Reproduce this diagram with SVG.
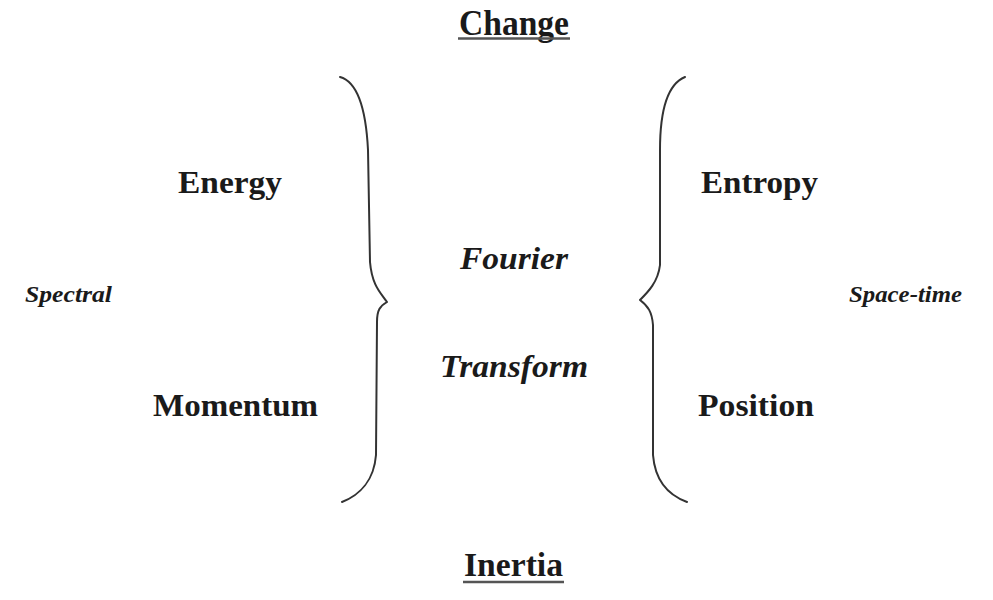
<svg xmlns="http://www.w3.org/2000/svg" width="993" height="600" viewBox="0 0 993 600">
<style>
.b{font-weight:bold;fill:#1a1a1a}
.i{font-style:italic;font-weight:bold;fill:#1a1a1a}
.brace{fill:none;stroke:#333;stroke-width:2;stroke-linecap:round;stroke-linejoin:round}
.ul{stroke:#555;stroke-width:2.5}
</style>
<rect width="993" height="600" fill="#ffffff"/>
<g font-family="Liberation Serif">
<g id="change"><text class="b" x="459" y="35" font-size="35" textLength="110" lengthAdjust="spacingAndGlyphs">Change</text><line class="ul" x1="458" y1="38.5" x2="570" y2="38.5"/></g>
<g id="inertia"><text class="b" x="464" y="576" font-size="33" textLength="99" lengthAdjust="spacingAndGlyphs">Inertia</text><line class="ul" x1="463" y1="582" x2="564" y2="582"/></g>
<g id="energy"><text class="b" x="178" y="193" font-size="32" textLength="104" lengthAdjust="spacingAndGlyphs">Energy</text></g>
<g id="momentum"><text class="b" x="153" y="416" font-size="32" textLength="165" lengthAdjust="spacingAndGlyphs">Momentum</text></g>
<g id="entropy"><text class="b" x="701" y="193" font-size="32" textLength="117" lengthAdjust="spacingAndGlyphs">Entropy</text></g>
<g id="position"><text class="b" x="698" y="416" font-size="32" textLength="116" lengthAdjust="spacingAndGlyphs">Position</text></g>
<g id="fourier"><text class="i" x="460" y="269" font-size="32" textLength="108" lengthAdjust="spacingAndGlyphs">Fourier</text></g>
<g id="transform"><text class="i" x="440" y="377" font-size="32" textLength="148" lengthAdjust="spacingAndGlyphs">Transform</text></g>
<g id="spectral"><text class="i" x="25" y="302" font-size="23" textLength="87" lengthAdjust="spacingAndGlyphs">Spectral</text></g>
<g id="spacetime"><text class="i" x="849" y="302" font-size="23" textLength="113" lengthAdjust="spacingAndGlyphs">Space-time</text></g>
</g>
<g id="connectors">
<path class="brace" d="M340,77 C358,82 366,110 368,150 L370,262 C372,285 380,292 387,302 C380,306 377,310 377,322 L376,455 C374,480 360,495 342,502"/>
<path class="brace" d="M685,77 C668,84 660,110 660,150 L660,265 C658,282 648,292 640,300 C648,306 652,312 653,325 L653,455 C655,480 668,495 687,502"/>
</g>
</svg>
